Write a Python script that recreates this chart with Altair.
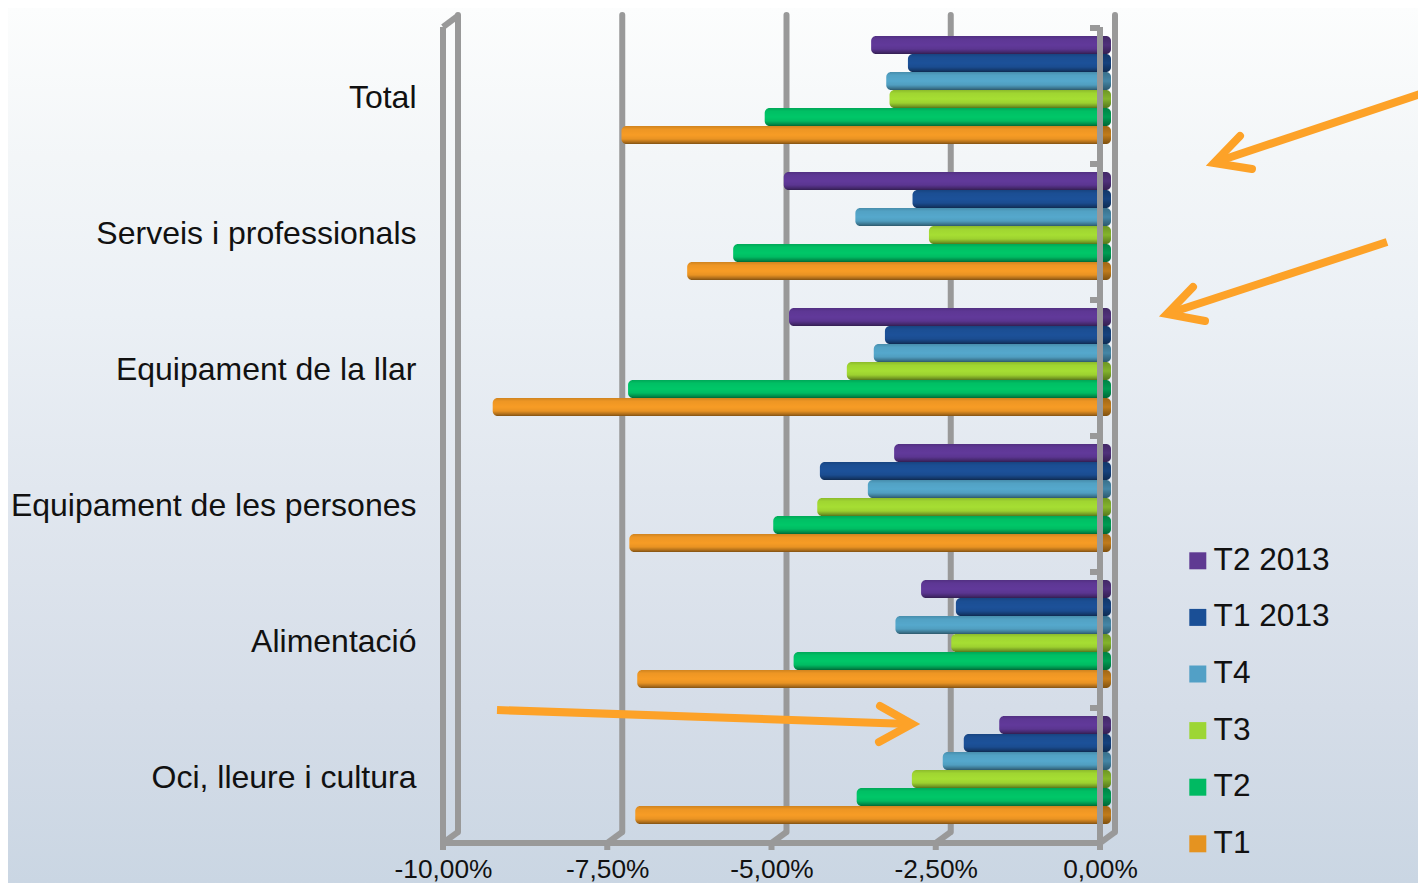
import altair as alt
import pandas as pd

categories = ["Total", "Serveis i professionals", "Equipament de la llar",
              "Equipament de les persones", "Alimentació", "Oci, lleure i cultura"]
series = ["T2 2013", "T1 2013", "T4", "T3", "T2", "T1"]
legend_colors = ["#5f3a92", "#1a4f96", "#52a0c6", "#9dd634", "#00ba62", "#e59320"]
bar_colors = ["#61399a", "#1c5199", "#55a8cc", "#a6de33", "#00c768", "#f79c25"]

t2_2013 = [-3.59, -4.92, -4.84, -3.24, -2.83, -1.64]
t1_2013 = [-3.03, -2.96, -3.38, -4.37, -2.30, -2.18]
t4 = [-3.36, -3.83, -3.55, -3.64, -3.22, -2.50]
t3 = [-3.31, -2.71, -3.96, -4.41, -2.37, -2.97]
t2 = [-5.21, -5.69, -7.29, -5.08, -4.77, -3.81]
t1 = [-7.39, -6.39, -9.35, -7.27, -7.15, -7.18]
all_values = [t2_2013, t1_2013, t4, t3, t2, t1]

tick_values = [-10, -7.5, -5, -2.5, 0]
PX = 65.7  # pixels per percentage point on the front plane


def u(px):
    return (px - 1100) / PX


rows = []
for s, col, vals in zip(series, bar_colors, all_values):
    for c, v in zip(categories, vals):
        rows.append({"category": c, "series": s, "value": v, "fill": col})
bars = pd.DataFrame(rows)

back_lines = pd.DataFrame(
    [{"x0": v + u(1115), "y0": 15, "x1": v + u(1115), "y1": 832} for v in tick_values])
diag = [{"x0": v, "y0": 843, "x1": v + u(1115), "y1": 832} for v in tick_values]
front = [{"x0": -10, "y0": 843, "x1": 0, "y1": 843},
         {"x0": -10, "y0": 27, "x1": -10, "y1": 843},
         {"x0": 0, "y0": 27, "x1": 0, "y1": 850},
         {"x0": -10, "y0": 27, "x1": u(459), "y1": 15}]
front += [{"x0": v, "y0": 843, "x1": v, "y1": 850} for v in tick_values]
front += [{"x0": u(1090), "y0": y, "x1": 0, "y1": y} for y in [28, 164, 300, 436, 572, 708]]
diag_df = pd.DataFrame(diag)
front_df = pd.DataFrame(front)

shafts = pd.DataFrame([
    {"x0": u(1426), "y0": 92, "x1": u(1216), "y1": 162},
    {"x0": u(1387), "y0": 242, "x1": u(1170), "y1": 313},
    {"x0": u(497), "y0": 710, "x1": u(910), "y1": 724},
])
heads = pd.DataFrame([
    {"arrow": "a", "o": 0, "x": u(1240), "y": 136}, {"arrow": "a", "o": 1, "x": u(1214), "y": 163},
    {"arrow": "a", "o": 2, "x": u(1252), "y": 169},
    {"arrow": "b", "o": 0, "x": u(1193), "y": 287}, {"arrow": "b", "o": 1, "x": u(1167), "y": 314},
    {"arrow": "b", "o": 2, "x": u(1205), "y": 321},
    {"arrow": "c", "o": 0, "x": u(880), "y": 706}, {"arrow": "c", "o": 1, "x": u(912), "y": 724},
    {"arrow": "c", "o": 2, "x": u(879), "y": 742},
])

xscale = alt.Scale(domain=[-10, 0], range=[19, 676], nice=False, zero=False)
pxscale = alt.Scale(domain=[8, 843], range=[0, 835], nice=False, zero=False)
bandscale = alt.Scale(domain=categories, range=[14, 830], paddingInner=0.206, paddingOuter=0.103)
offscale = alt.Scale(domain=series, range=[0, 108])

FONT = "Liberation Sans"
INK = "#111111"
GRAY = "#999999"


def grad(stops):
    return alt.LinearGradient(
        gradient="linear", x1=0, y1=0, x2=0, y2=1,
        stops=[alt.GradientStop(color=c, offset=o) for o, c in stops])


x_axis = alt.Axis(values=tick_values,
                  labelExpr="replace(replace(format(datum.value,'.2f'),'.',','),'\u2212','-') + '%'",
                  domain=False, ticks=False, grid=False, labelFont=FONT, labelFontSize=26.3,
                  labelColor=INK, labelPadding=13, zindex=1, labelFlush=False, labelOverlap=False,
                  title=None)
y_axis = alt.Axis(domain=False, ticks=False, grid=False, labelFont=FONT, labelFontSize=32,
                  labelColor=INK, labelPadding=8, labelLimit=600, labelOffset=7.5, zindex=1)


def ybar(axis=None):
    if axis is None:
        return alt.Y("category:N", scale=bandscale, axis=None, sort=categories)
    return alt.Y("category:N", scale=bandscale, axis=axis, sort=categories, title=None)


yoff = alt.YOffset("series:N", scale=offscale, sort=series)


def seg(df, width, cap="butt"):
    return alt.Chart(df).mark_rule(color=GRAY, strokeWidth=width, strokeCap=cap).encode(
        x=alt.X("x0:Q", scale=xscale, axis=x_axis), x2="x1:Q",
        y=alt.Y("y0:Q", scale=pxscale, axis=None), y2="y1:Q")


bg = alt.Chart(pd.DataFrame({"a": [0]})).mark_rect(
    color=grad([(0, "#fcfdfd"), (0.17, "#f3f6f8"), (0.35, "#ebf0f5"), (0.55, "#e1e7ef"),
                (0.8, "#d5dde8"), (1, "#cad6e3")])
).encode(x=alt.value(-416), x2=alt.value(994), y=alt.value(0), y2=alt.value(875))

back = seg(back_lines, 6, "round")
diags = seg(diag_df, 6)

cap = alt.Chart(bars).mark_bar(xOffset=-3, x2Offset=11, cornerRadius=5).encode(
    x=alt.X(datum=0, scale=xscale, axis=x_axis), x2=alt.X2(datum=0),
    y=ybar(y_axis), yOffset=yoff,
    color=alt.Color("series:N", scale=alt.Scale(domain=series, range=legend_colors), sort=series,
                    legend=alt.Legend(orient="none", legendX=758, legendY=537, title=None,
                                      symbolType="square", symbolSize=289, symbolStrokeWidth=0,
                                      labelFont=FONT, labelFontSize=31.6, labelColor=INK,
                                      rowPadding=23.6, labelOffset=0, symbolOpacity=1)))
cap_shade = alt.Chart(bars).mark_bar(
    xOffset=-3, x2Offset=11, cornerRadius=5,
    color=grad([(0, "rgba(0,0,0,0.30)"), (0.5, "rgba(0,0,0,0.16)"), (1, "rgba(0,0,0,0.45)")])
).encode(x=alt.X(datum=0, scale=xscale, axis=x_axis), x2=alt.X2(datum=0), y=ybar(), yOffset=yoff)

main = alt.Chart(bars).mark_bar(xOffset=7, x2Offset=3, cornerRadius=5).encode(
    x=alt.X("value:Q", scale=xscale, axis=x_axis, stack=None), x2=alt.X2(datum=0),
    y=ybar(), yOffset=yoff, color=alt.Color("fill:N", scale=None))
main_shade = alt.Chart(bars).mark_bar(
    xOffset=7, x2Offset=3, cornerRadius=5,
    color=grad([(0, "rgba(0,0,0,0.16)"), (0.18, "rgba(0,0,0,0.04)"), (0.5, "rgba(0,0,0,0)"),
                (0.72, "rgba(0,0,0,0.06)"), (0.9, "rgba(0,0,0,0.30)"), (1, "rgba(0,0,0,0.48)")])
).encode(x=alt.X("value:Q", scale=xscale, axis=x_axis, stack=None), x2=alt.X2(datum=0),
         y=ybar(), yOffset=yoff)

front_layer = seg(front_df, 6)

arrow_shafts = alt.Chart(shafts).mark_rule(color="#fda228", strokeWidth=8).encode(
    x=alt.X("x0:Q", scale=xscale, axis=x_axis), x2="x1:Q",
    y=alt.Y("y0:Q", scale=pxscale, axis=None), y2="y1:Q")
arrow_heads = alt.Chart(heads).mark_line(
    color="#fda228", strokeWidth=8, strokeCap="round", strokeJoin="miter", strokeMiterLimit=10
).encode(x=alt.X("x:Q", scale=xscale, axis=x_axis),
         y=alt.Y("y:Q", scale=pxscale, axis=None),
         detail="arrow:N", order="o:Q")

chart = alt.layer(bg, back, diags, cap, cap_shade, main, main_shade, front_layer,
                  arrow_shafts, arrow_heads).resolve_scale(
    y="independent", color="independent"
).properties(
    width=994, height=835,
    padding={"left": 416, "top": 0, "right": 0, "bottom": 40},
    autosize=alt.AutoSizeParams(type="none", contains="content"),
).configure_view(stroke=None)

chart.save("out.html", embed_options={"renderer": "svg", "actions": False})
